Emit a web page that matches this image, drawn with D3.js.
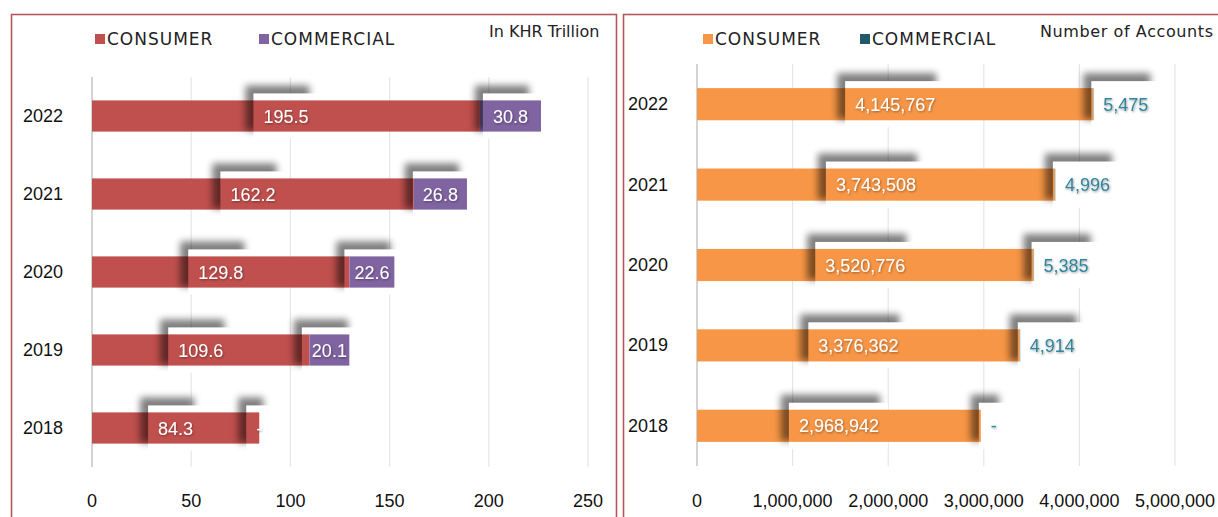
<!DOCTYPE html>
<html>
<head>
<meta charset="utf-8">
<script src="https://cdn.jsdelivr.net/npm/d3@7"></script>
<style>
	html, body { margin: 0; padding: 0; background: #fff; overflow: hidden; }
	svg { display: block; }
	.tick-label, .cat-label, .data-label { font-family: "Liberation Sans", Arial, sans-serif; font-size: 18px; }
	.legend-text, .title-text { font-family: "DejaVu Sans", sans-serif; fill: #222; }
	.legend-text { font-size: 17px; letter-spacing: 1px; }
	.title-text { font-size: 16px; }
</style>
</head>
<body>
<svg id="chart" width="1218" height="517"></svg>
<script>
// values
var years = ["2022", "2021", "2020", "2019", "2018"];
var loanConsumer = [195.5, 162.2, 129.8, 109.6, 84.3];
var loanCommercial = [30.8, 26.8, 22.6, 20.1, 0];
var loanTicks = [0, 50, 100, 150, 200, 250];
var acctConsumer = [4145767, 3743508, 3520776, 3376362, 2968942];
var acctCommercial = [5475, 4996, 5385, 4914, 0];
var acctTicks = [0, 1000000, 2000000, 3000000, 4000000, 5000000];
var seriesNames = ["CONSUMER", "COMMERCIAL"];

var svg = d3.select("#chart");
var defs = svg.append("defs");

var blur = defs.append("filter").attr("id", "boxBlur")
	.attr("x", "-50%").attr("y", "-50%").attr("width", "200%").attr("height", "200%");
blur.append("feGaussianBlur").attr("stdDeviation", 3.8);

var txtShadow = defs.append("filter").attr("id", "txtShadow")
	.attr("x", "-20%").attr("y", "-30%").attr("width", "140%").attr("height", "160%");
txtShadow.append("feDropShadow").attr("dx", 0.8).attr("dy", 1).attr("stdDeviation", 0.8)
	.attr("flood-color", "#000").attr("flood-opacity", 0.4);

var maskCount = 0;

function drawPanel(p) {
	var g = svg.append("g");

	g.append("rect")
		.attr("x", p.frame[0]).attr("y", 14.5)
		.attr("width", p.frame[1]).attr("height", 600)
		.attr("fill", "none").attr("stroke", "#b5575b").attr("stroke-width", 1.6);

	var x = d3.scaleLinear().domain([p.ticks[0], p.ticks[p.ticks.length - 1]]).range(p.xRange);
	var y = d3.scaleBand().domain(years).range(p.yRange).paddingInner(0.6).paddingOuter(0.3);

	// gridlines
	g.append("g").selectAll("line").data(p.ticks).enter().append("line")
		.attr("x1", function(d) { return x(d); }).attr("x2", function(d) { return x(d); })
		.attr("y1", p.yRange[0]).attr("y2", p.yRange[1])
		.attr("stroke", function(d, i) { return i == 0 ? "#c8c8c8" : "#e6e6e6"; })
		.attr("stroke-width", function(d, i) { return i == 0 ? 1.6 : 1.2; });

	// tick labels
	g.append("g").selectAll("text").data(p.ticks).enter().append("text")
		.attr("class", "tick-label")
		.attr("x", function(d) { return x(d); }).attr("y", 507)
		.attr("text-anchor", "middle").attr("fill", "#111")
		.text(function(d) { return p.tickFormat(d); });

	// category labels
	g.append("g").selectAll("text").data(years).enter().append("text")
		.attr("class", "cat-label")
		.attr("x", p.catX).attr("y", function(d) { return y(d) + y.bandwidth() / 2 + 6; })
		.attr("fill", "#111")
		.text(function(d) { return d; });

	// legend
	var lg = g.append("g");
	seriesNames.forEach(function(name, i) {
		lg.append("rect").attr("x", p.legendX[i]).attr("y", 34).attr("width", 10).attr("height", 10)
			.attr("fill", p.legendColors[i]);
		lg.append("text").attr("class", "legend-text")
			.attr("x", p.legendX[i] + 12).attr("y", 45).text(name);
	});
	g.append("text").attr("class", "title-text")
		.attr("x", p.titleX).attr("y", 37)
		.style("letter-spacing", p.titleSpacing + "px")
		.text(p.title);

	var boxLayer = g.append("g");
	var barLayer = g.append("g");
	var shadowLayer = g.append("g");
	var textLayer = g.append("g");

	var rows = years.map(function(yr, i) {
		return { year: yr, a: p.consumer[i], b: p.commercial[i] };
	});

	rows.forEach(function(r) {
		var top = y(r.year), h = y.bandwidth();
		var segs = [
			{ x0: x(0), x1: x(r.a), v: r.a, color: p.barColors[0], txt: "#fff", center: true },
			{ x0: x(r.a), x1: x(r.a + r.b), v: r.b, color: p.barColors[1], txt: p.commText, center: p.commCentered }
		];
		segs.forEach(function(s) {
			barLayer.append("rect")
				.attr("x", s.x0).attr("y", top)
				.attr("width", Math.max(0, s.x1 - s.x0)).attr("height", h)
				.attr("fill", s.color);

			var t = textLayer.append("text")
				.attr("class", "data-label")
				.attr("y", top + h / 2 + 6.5)
				.attr("fill", s.txt)
				.attr("filter", "url(#txtShadow)")
				.text(s.v == 0 ? "-" : p.labelFormat(s.v));
			if (s.center) {
				t.attr("x", (s.x0 + s.x1) / 2).attr("text-anchor", "middle");
			} else {
				t.attr("x", s.x0 + 10);
			}
			var bb = t.node().getBBox();
			var bx = bb.x - 10, bw = bb.width + 19;
			if (!s.center) { bx = s.x0 - 2; bw = bb.width + 22; }
			var by = top - 7, bh = h + 14;

			boxLayer.append("rect").attr("x", bx).attr("y", by).attr("width", bw).attr("height", bh)
				.attr("fill", "#fff");

			// soft shadow on the top and left of each label box
			var mid = "boxMask" + (maskCount++);
			var m = defs.append("mask").attr("id", mid).attr("maskUnits", "userSpaceOnUse")
				.attr("x", 0).attr("y", 0).attr("width", 1218).attr("height", 517);
			m.append("rect").attr("x", 0).attr("y", 0).attr("width", 1218).attr("height", 517).attr("fill", "#fff");
			m.append("rect").attr("x", bx).attr("y", by).attr("width", bw).attr("height", bh).attr("fill", "#000");

			shadowLayer.append("g").attr("mask", "url(#" + mid + ")")
				.append("rect")
				.attr("x", bx - 8).attr("y", by - 8).attr("width", bw).attr("height", bh)
				.attr("fill", "#000").attr("opacity", 0.5)
				.attr("filter", "url(#boxBlur)");
		});
	});
}

drawPanel({
	frame: [11.5, 605],
	xRange: [92, 588],
	yRange: [77, 467],
	ticks: loanTicks,
	tickFormat: d3.format("d"),
	labelFormat: d3.format(".1f"),
	consumer: loanConsumer,
	commercial: loanCommercial,
	barColors: ["#c0504d", "#8064a2"],
	legendColors: ["#c0504d", "#8064a2"],
	commText: "#fff",
	commCentered: true,
	catX: 23,
	legendX: [95, 259],
	titleX: 489,
	titleSpacing: 0,
	title: "In KHR Trillion"
});

drawPanel({
	frame: [623.5, 700],
	xRange: [697, 1175],
	yRange: [64, 466],
	ticks: acctTicks,
	tickFormat: d3.format(","),
	labelFormat: d3.format(","),
	consumer: acctConsumer,
	commercial: acctCommercial,
	barColors: ["#f79646", "#4bacc6"],
	legendColors: ["#f79646", "#215968"],
	commText: "#31859c",
	commCentered: false,
	catX: 628,
	legendX: [703, 860],
	titleX: 1040,
	titleSpacing: 0.6,
	title: "Number of Accounts"
});
</script>
</body>
</html>
